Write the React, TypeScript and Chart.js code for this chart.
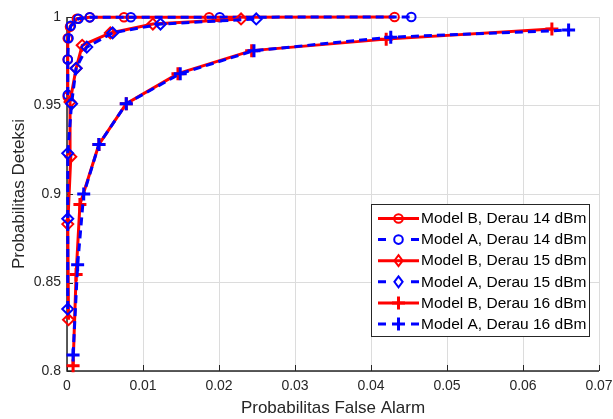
import React, { useEffect, useRef } from "react";
import { Chart, registerables } from "chart.js";

Chart.register(...registerables);

const xTicks = [0, 0.01, 0.02, 0.03, 0.04, 0.05, 0.06, 0.07];
const yTicks = [0.8, 0.85, 0.9, 0.95, 1];

const faB14 = [0.0001, 0.0001, 0.0001, 0.0004, 0.0013, 0.003, 0.0075, 0.0187, 0.0431];
const pdB14 = [0.955, 0.976, 0.988, 0.9945, 0.999, 0.9998, 0.9999, 0.9999, 1.0];
const faA14 = [0.0001, 0.0001, 0.0002, 0.0005, 0.0015, 0.003, 0.0084, 0.0201, 0.0453];
const pdA14 = [0.956, 0.976, 0.988, 0.995, 0.999, 0.9998, 0.9999, 0.9999, 1.0];

const faB15 = [0.0002, 0.0001, 0.0005, 0.0004, 0.0012, 0.002, 0.0057, 0.0113, 0.0229];
const pdB15 = [0.829, 0.883, 0.921, 0.952, 0.971, 0.984, 0.991, 0.996, 0.9989];
const faA15 = [0.0001, 0.0001, 0.0001, 0.0006, 0.0012, 0.0026, 0.006, 0.0123, 0.0249];
const pdA15 = [0.835, 0.886, 0.923, 0.951, 0.971, 0.983, 0.991, 0.996, 0.9989];

const faB16 = [0.0008, 0.0012, 0.0017, 0.0042, 0.0078, 0.0146, 0.0243, 0.042, 0.0638];
const pdB16 = [0.803, 0.8545, 0.894, 0.928, 0.951, 0.968, 0.981, 0.9875, 0.9932];
const faA16 = [0.0008, 0.0014, 0.0022, 0.0042, 0.0078, 0.0149, 0.0246, 0.0426, 0.066];
const pdA16 = [0.809, 0.86, 0.9, 0.928, 0.951, 0.968, 0.981, 0.9886, 0.9926];

const seriesLabels = [
  "Model B, Derau 14 dBm",
  "Model A, Derau 14 dBm",
  "Model B, Derau 15 dBm",
  "Model A, Derau 15 dBm",
  "Model B, Derau 16 dBm",
  "Model A, Derau 16 dBm",
];

const FONT = "'Liberation Sans', Arial, Helvetica, sans-serif";
const RED = "#ff0000";
const BLUE = "#0000ff";
const DASH = [8, 5];

const toPts = (xs: number[], ys: number[]) => xs.map((x, i) => ({ x, y: ys[i] }));

type Marker = "circle" | "rectRot" | "cross";

function drawMarker(ctx: CanvasRenderingContext2D, style: Marker, x: number, y: number, color: string) {
  ctx.save();
  ctx.setLineDash([]);
  ctx.strokeStyle = color;
  ctx.beginPath();
  if (style === "circle") {
    ctx.lineWidth = 2;
    ctx.arc(x, y, 4.3, 0, Math.PI * 2);
  } else if (style === "rectRot") {
    ctx.lineWidth = 2;
    const r = 5.5;
    ctx.moveTo(x, y - r);
    ctx.lineTo(x + r * 0.75, y);
    ctx.lineTo(x, y + r);
    ctx.lineTo(x - r * 0.75, y);
    ctx.closePath();
  } else {
    ctx.lineWidth = 3;
    const r = 6.5;
    ctx.moveTo(x - r, y);
    ctx.lineTo(x + r, y);
    ctx.moveTo(x, y - r);
    ctx.lineTo(x, y + r);
  }
  ctx.stroke();
  ctx.restore();
}

const markers: Marker[] = ["circle", "circle", "rectRot", "rectRot", "cross", "cross"];
const colors = [RED, BLUE, RED, BLUE, RED, BLUE];

const axesPlugin = {
  id: "matlabAxes",
  beforeDatasetsDraw(chart: any) {
    const { ctx, chartArea } = chart;
    const { left, right, top, bottom } = chartArea;
    const xs = chart.scales.x;
    const ys = chart.scales.y;
    ctx.save();
    ctx.strokeStyle = "#262626";
    ctx.lineWidth = 1;
    ctx.beginPath();
    xTicks.forEach((t) => {
      const px = Math.round(xs.getPixelForValue(t)) + 0.5;
      ctx.moveTo(px, bottom);
      ctx.lineTo(px, bottom - 6);
    });
    yTicks.forEach((t) => {
      const py = Math.round(ys.getPixelForValue(t)) + 0.5;
      ctx.moveTo(left, py);
      ctx.lineTo(left + 6, py);
    });
    ctx.stroke();
    ctx.lineWidth = 1.5;
    ctx.beginPath();
    ctx.moveTo(left, top);
    ctx.lineTo(left, bottom);
    ctx.lineTo(right, bottom);
    ctx.stroke();
    ctx.restore();
  },
};

const legendPlugin = {
  id: "matlabLegend",
  afterDraw(chart: any) {
    const { ctx } = chart;
    const bx = 371.5, by = 204.5, bw = 218, bh = 132;
    ctx.save();
    ctx.fillStyle = "#ffffff";
    ctx.fillRect(bx, by, bw, bh);
    ctx.strokeStyle = "#262626";
    ctx.lineWidth = 1;
    ctx.strokeRect(bx, by, bw, bh);
    ctx.font = `15.5px ${FONT}`;
    ctx.textBaseline = "middle";
    ctx.textAlign = "left";
    seriesLabels.forEach((label, i) => {
      const y = 218.5 + i * 21.1;
      const color = colors[i];
      ctx.strokeStyle = color;
      ctx.lineWidth = 3;
      ctx.setLineDash([]);
      ctx.beginPath();
      if (i % 2 === 0) {
        ctx.moveTo(378, y);
        ctx.lineTo(419, y);
      } else {
        ctx.moveTo(378, y);
        ctx.lineTo(386, y);
        ctx.moveTo(411, y);
        ctx.lineTo(419, y);
      }
      ctx.stroke();
      drawMarker(ctx, markers[i], 398.5, y, color);
      ctx.fillStyle = "#000000";
      ctx.fillText(label, 421, y + 0.5);
    });
    ctx.restore();
  },
};

export default function App() {
  const ref = useRef<HTMLCanvasElement | null>(null);

  useEffect(() => {
    document.body.style.margin = "0";
    const canvas = ref.current;
    if (!canvas) return;
    const mk = (i: number, xs: number[], ys: number[]) => {
      const isA = i % 2 === 1;
      const ms = markers[i];
      return {
        label: seriesLabels[i],
        data: toPts(xs, ys),
        showLine: true,
        borderColor: colors[i],
        backgroundColor: "rgba(0,0,0,0)",
        borderWidth: 3,
        borderDash: isA ? DASH : [],
        tension: 0,
        pointStyle: ms,
        pointRadius: ms === "circle" ? 4.3 : ms === "rectRot" ? 5.5 : 6.5,
        pointBorderWidth: ms === "cross" ? 3 : 2,
        pointBorderColor: colors[i],
        pointBackgroundColor: "rgba(0,0,0,0)",
        clip: false as any,
        order: 6 - i,
      };
    };
    const chart = new Chart(canvas, {
      type: "scatter",
      data: {
        datasets: [
          mk(0, faB14, pdB14),
          mk(1, faA14, pdA14),
          mk(2, faB15, pdB15),
          mk(3, faA15, pdA15),
          mk(4, faB16, pdB16),
          mk(5, faA16, pdA16),
        ] as any,
      },
      options: {
        animation: false,
        responsive: false,
        devicePixelRatio: 1,
        layout: { padding: { left: 0, right: 14, top: 17, bottom: 0 } },
        plugins: { legend: { display: false }, tooltip: { enabled: false } },
        scales: {
          x: {
            type: "linear",
            min: 0,
            max: 0.07,
            afterFit: (s: any) => {
              s.height = 48;
              s.paddingLeft = 0;
              s.paddingRight = 0;
            },
            afterBuildTicks: (s: any) => {
              s.ticks = xTicks.map((v) => ({ value: v }));
            },
            ticks: {
              padding: 7,
              color: "#262626",
              font: { family: FONT, size: 14 },
              maxRotation: 0,
              callback: (v: any) => String(+Number(v).toFixed(2)),
            },
            grid: { color: "#dcdcdc", lineWidth: 1, drawTicks: false },
            border: { display: false },
            title: {
              display: true,
              text: "Probabilitas False Alarm",
              color: "#262626",
              font: { family: FONT, size: 17 },
              padding: { top: 0, bottom: 0 },
            },
          },
          y: {
            type: "linear",
            min: 0.8,
            max: 1,
            afterFit: (s: any) => {
              s.width = 67;
              s.paddingTop = 0;
              s.paddingBottom = 0;
            },
            afterBuildTicks: (s: any) => {
              s.ticks = yTicks.map((v) => ({ value: v }));
            },
            ticks: {
              padding: 6,
              color: "#262626",
              font: { family: FONT, size: 14 },
              callback: (v: any) => String(+Number(v).toFixed(2)),
            },
            grid: { color: "#dcdcdc", lineWidth: 1, drawTicks: false },
            border: { display: false },
            title: {
              display: true,
              text: "Probabilitas Deteksi",
              color: "#262626",
              font: { family: FONT, size: 17 },
              padding: { top: 9, bottom: 0 },
            },
          },
        },
      },
      plugins: [axesPlugin, legendPlugin],
    });
    return () => chart.destroy();
  }, []);

  return (
    <div style={{ position: "absolute", left: 0, top: 0, width: 613, height: 419, background: "#fff" }}>
      <canvas ref={ref} width={613} height={419} style={{ display: "block" }} />
    </div>
  );
}
